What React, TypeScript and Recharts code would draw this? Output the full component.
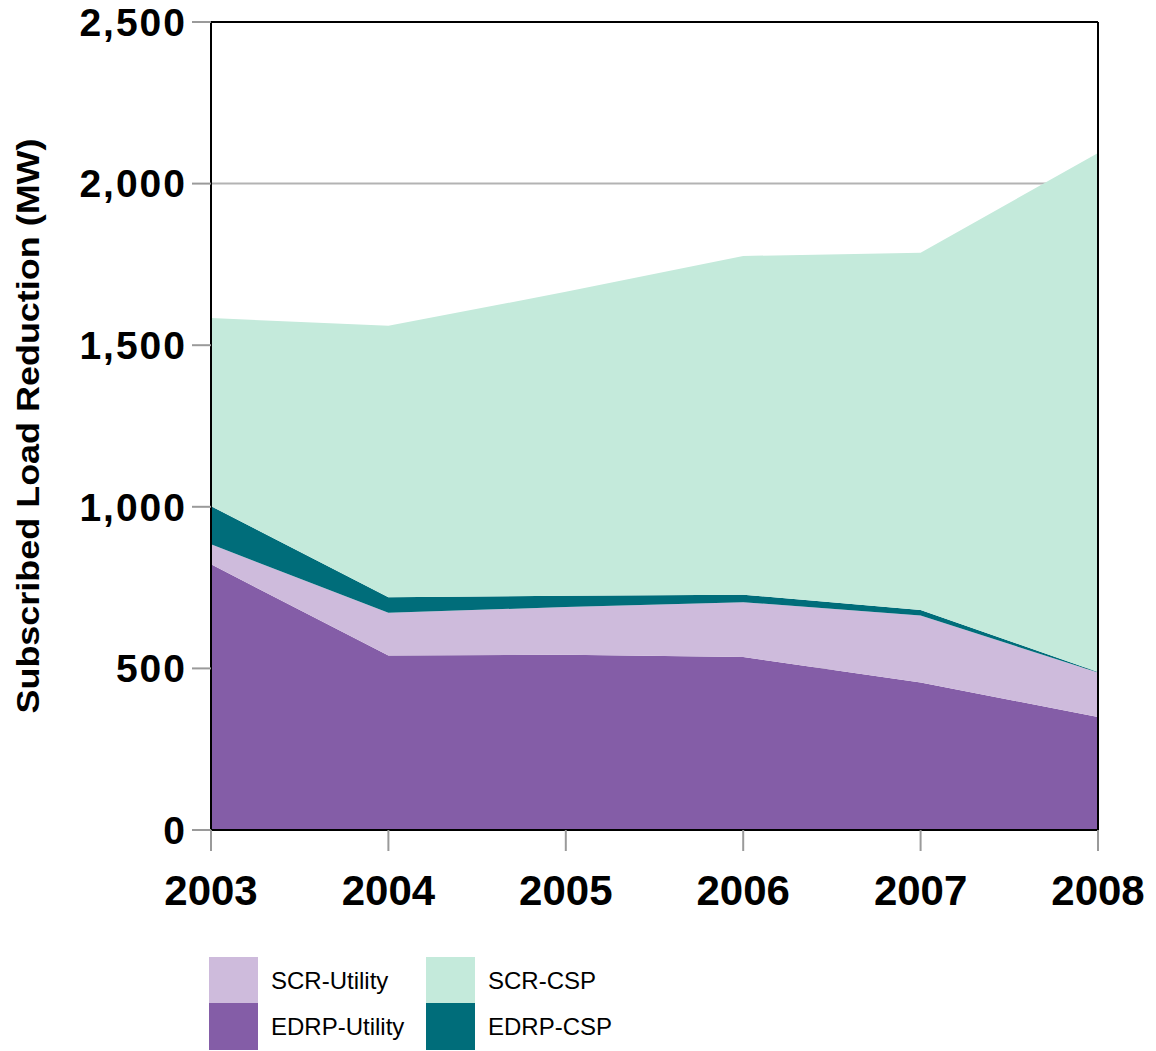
import { AreaChart, Area, XAxis, YAxis, CartesianGrid, ReferenceLine, Label } from 'recharts';

const YEARS = [2003, 2004, 2005, 2006, 2007, 2008];
const EDRP_UTILITY = [822, 540, 542, 535, 456, 350];
const SCR_UTILITY = [62, 132, 148, 170, 208, 137];
const EDRP_CSP = [118, 48, 35, 23, 17, 2];
const SCR_CSP = [582, 840, 940, 1048, 1105, 1606];
const Y_TICKS = [0, 500, 1000, 1500, 2000, 2500];

const COLORS = {
  edrpUtility: '#845da7',
  scrUtility: '#cebbdc',
  edrpCsp: '#006d7a',
  scrCsp: '#c4eadb',
};

const data = YEARS.map((year, i) => ({
  year,
  edrpUtility: EDRP_UTILITY[i],
  scrUtility: SCR_UTILITY[i],
  edrpCsp: EDRP_CSP[i],
  scrCsp: SCR_CSP[i],
}));

const LEGEND = [
  { key: 'scrUtility', label: 'SCR-Utility', left: 209, top: 957 },
  { key: 'edrpUtility', label: 'EDRP-Utility', left: 209, top: 1003 },
  { key: 'scrCsp', label: 'SCR-CSP', left: 426, top: 957 },
  { key: 'edrpCsp', label: 'EDRP-CSP', left: 426, top: 1003 },
] as const;

function YTitle({ viewBox }: any) {
  const cy = viewBox ? viewBox.y + viewBox.height / 2 : 426;
  return (
    <text
      x={28}
      y={cy}
      transform={`rotate(-90, 28, ${cy})`}
      textAnchor="middle"
      dominantBaseline="central"
      fontFamily="'Liberation Sans', Arial, sans-serif"
      fontWeight="bold"
      fontSize={31}
      fill="#000"
      textLength={575}
      lengthAdjust="spacingAndGlyphs"
    >
      Subscribed Load Reduction (MW)
    </text>
  );
}

export default function App() {
  return (
    <div style={{ position: 'absolute', left: 0, top: 0, width: 1156, height: 1051, background: '#fff' }}>
      <AreaChart width={1156} height={1051} data={data} margin={{ top: 22, right: 58, bottom: 0, left: 0 }}>
        <CartesianGrid horizontal vertical={false} stroke="#b3b3b3" strokeWidth={2} />
        <XAxis
          type="number"
          dataKey="year"
          domain={[2003, 2008]}
          ticks={YEARS}
          height={221}
          tickSize={21}
          tickMargin={24}
          axisLine={{ stroke: '#000', strokeWidth: 2 }}
          tickLine={{ stroke: '#9a9a9a', strokeWidth: 2 }}
          tick={{ fill: '#000', fontSize: 42, fontWeight: 'bold', fontFamily: "'Liberation Sans', Arial, sans-serif" }}
        />
        <YAxis
          domain={[0, 2500]}
          ticks={Y_TICKS}
          width={211}
          tickSize={19}
          tickMargin={5}
          axisLine={{ stroke: '#000', strokeWidth: 2 }}
          tickLine={{ stroke: '#9a9a9a', strokeWidth: 2 }}
          tickFormatter={(v: number) => v.toLocaleString('en-US')}
          tick={{ fill: '#000', fontSize: 39, fontWeight: 'bold', fontFamily: "'Liberation Sans', Arial, sans-serif", letterSpacing: 2 }}
        >
          <Label content={<YTitle />} />
        </YAxis>
        <Area type="linear" dataKey="edrpUtility" stackId="1" stroke="none" fill={COLORS.edrpUtility} fillOpacity={1} isAnimationActive={false} />
        <Area type="linear" dataKey="scrUtility" stackId="1" stroke="none" fill={COLORS.scrUtility} fillOpacity={1} isAnimationActive={false} />
        <Area type="linear" dataKey="edrpCsp" stackId="1" stroke="none" fill={COLORS.edrpCsp} fillOpacity={1} isAnimationActive={false} />
        <Area type="linear" dataKey="scrCsp" stackId="1" stroke="none" fill={COLORS.scrCsp} fillOpacity={1} isAnimationActive={false} />
        <ReferenceLine y={2500} stroke="#000" strokeWidth={2} />
        <ReferenceLine x={2008} stroke="#000" strokeWidth={2} />
      </AreaChart>

      {/* Legend */}
      {LEGEND.map((item) => (
        <div key={item.key}>
          <div
            style={{
              position: 'absolute',
              left: item.left,
              top: item.top,
              width: 49,
              height: 47,
              background: COLORS[item.key],
            }}
          />
          <div
            style={{
              position: 'absolute',
              left: item.left + 62,
              top: item.top + 6,
              height: 36,
              lineHeight: '36px',
              fontFamily: "'Liberation Sans', Arial, sans-serif",
              fontSize: 24,
              color: '#000',
              whiteSpace: 'nowrap',
            }}
          >
            {item.label}
          </div>
        </div>
      ))}
    </div>
  );
}
